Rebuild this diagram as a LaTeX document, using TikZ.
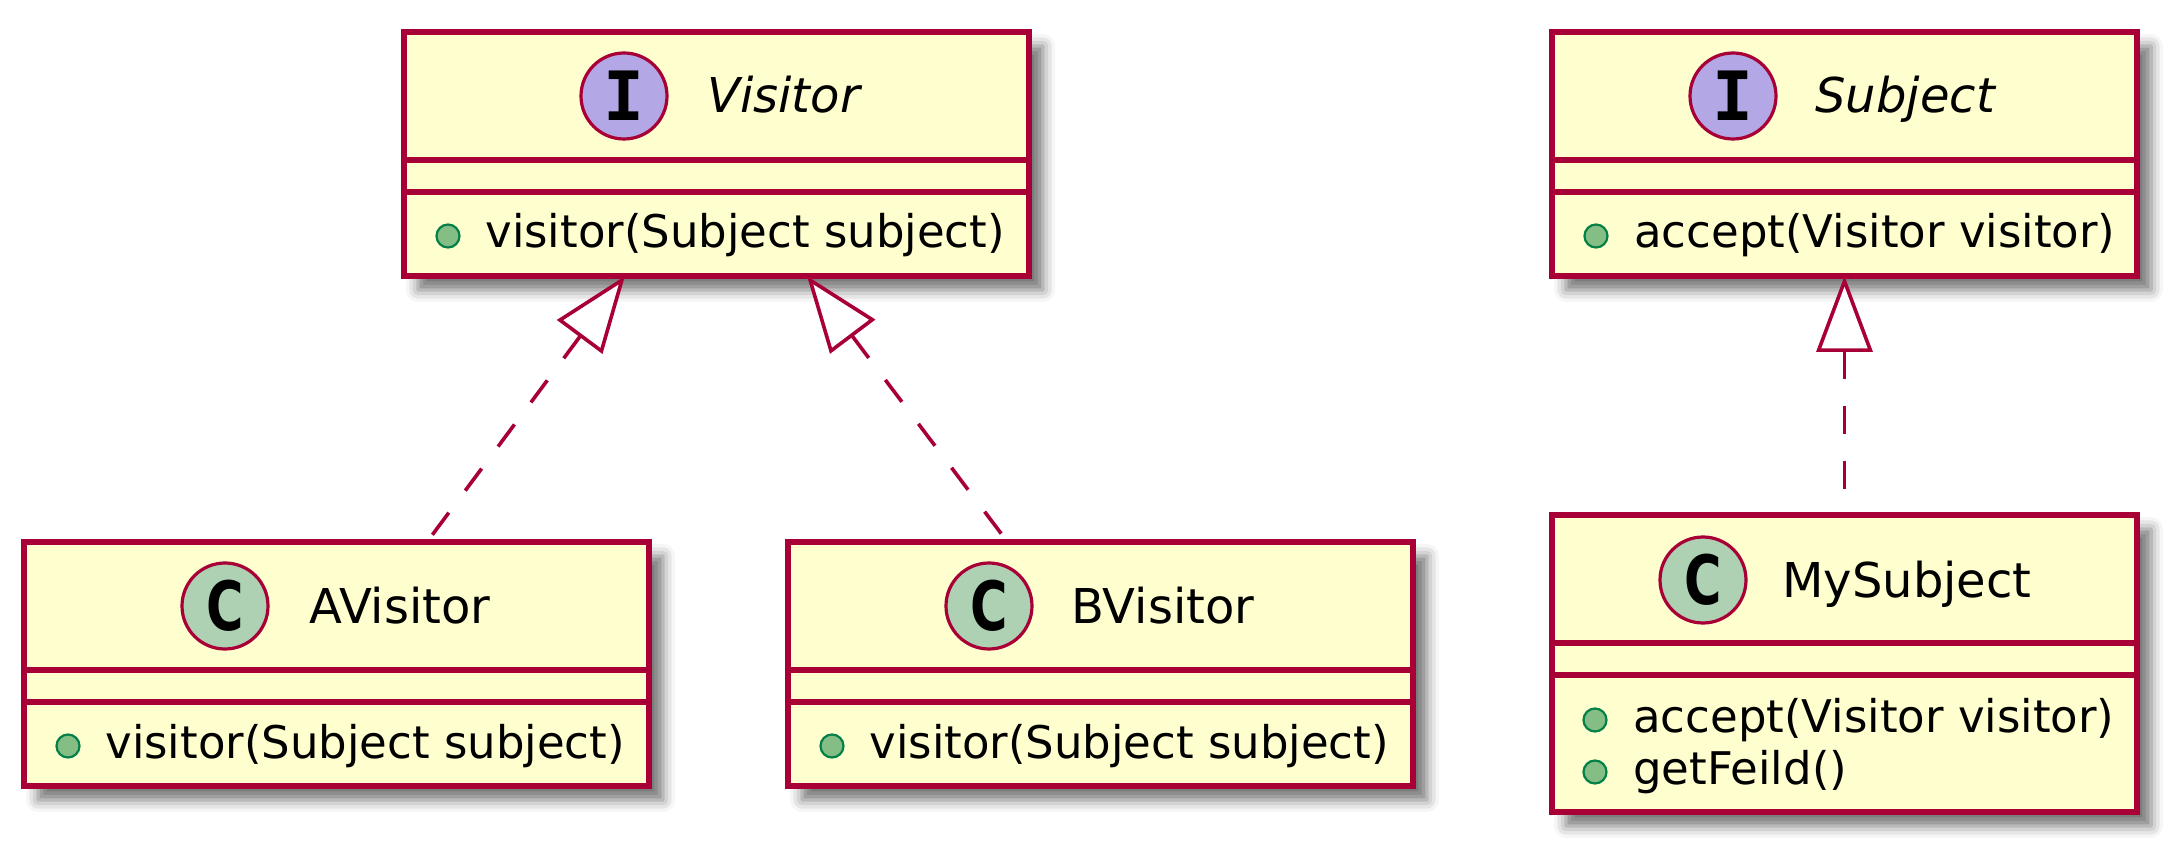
\documentclass[tikz,border=0pt]{standalone}
\usepackage{fontspec}
\setmainfont{DejaVu Sans}
\setmonofont{DejaVu Sans Mono}
\usetikzlibrary{arrows.meta,calc,shadows.blur}
\definecolor{umlborder}{HTML}{A80036}
\definecolor{umlfill}{HTML}{FEFECE}
\definecolor{ccol}{HTML}{ADD1B2}
\definecolor{icol}{HTML}{B4A7E5}
\definecolor{pubfill}{HTML}{84BE84}
\definecolor{pubdraw}{HTML}{038048}
\newcommand\mkclass[5]{%
  \node[classbox, minimum width=#4, minimum height=#5] (#1) at (#2,#3) {};
  \draw[sepline] ($(#1.north west)+(0,128)$) -- ($(#1.north east)+(0,128)$);
  \draw[sepline] ($(#1.north west)+(0,160)$) -- ($(#1.north east)+(0,160)$);
}
\newcommand\letterC{{\fontsize{34}{34}\selectfont\bfseries\scalebox{0.75}[1]{C}}}
\newcommand\letterI{{\fontsize{34}{34}\selectfont\ttfamily\bfseries I}}
\begin{document}
\begin{tikzpicture}[x=0.5pt,y=-0.5pt,
  classbox/.style={rectangle, draw=umlborder, fill=umlfill, line width=2.8pt, inner sep=0pt, outer sep=0pt, anchor=north west,
    blur shadow={shadow xshift=7pt, shadow yshift=-7pt, shadow blur radius=6pt, shadow opacity=55}},
  sepline/.style={draw=umlborder, line width=2.8pt},
  kindc/.style={circle, draw=umlborder, line width=1.6pt, fill=ccol, minimum size=43pt, inner sep=0pt},
  kindi/.style={circle, draw=umlborder, line width=1.6pt, fill=icol, minimum size=43pt, inner sep=0pt},
  ctitle/.style={anchor=base west, inner sep=0pt, font=\fontsize{24}{28}\selectfont},
  ititle/.style={anchor=base west, inner sep=0pt, font=\fontsize{24}{28}\selectfont\itshape},
  member/.style={anchor=base west, inner sep=0pt, font=\fontsize{22.5}{27}\selectfont},
  pub/.style={circle, draw=pubdraw, fill=pubfill, line width=1.1pt, minimum size=11.5pt, inner sep=0pt},
  realize/.style={draw=umlborder, line width=1.8pt, dash pattern=on 13.75pt off 13.75pt,
    {Triangle[fill=white, length=38pt, width=28pt]}-}
]
\useasboundingbox (0,0) rectangle (2176,850);

\mkclass{visitor}{404}{32}{312.5pt}{122pt}
\mkclass{subject}{1552}{32}{292.5pt}{122pt}
\mkclass{avisitor}{24}{542}{312.5pt}{122pt}
\mkclass{bvisitor}{788}{542}{312.5pt}{122pt}
\mkclass{mysubject}{1552}{515}{292.5pt}{148.5pt}

% Visitor
\node[kindi] (visitor-k) at ($(visitor.north west)+(220,64)$) {\letterI};
\node[ititle] (visitor-t) at ($(visitor.north west)+(303,81)$) {Visitor};
\node[pub] (visitor-p1) at ($(visitor.north west)+(44,204)$) {};
\node[member] (visitor-m1) at ($(visitor.north west)+(81,216)$) {visitor(Subject subject)};

% Subject
\node[kindi] (subject-k) at ($(subject.north west)+(181,64)$) {\letterI};
\node[ititle] (subject-t) at ($(subject.north west)+(263,81)$) {Subject};
\node[pub] (subject-p1) at ($(subject.north west)+(44,204)$) {};
\node[member] (subject-m1) at ($(subject.north west)+(82,216)$) {accept(Visitor visitor)};

% AVisitor
\node[kindc] (avisitor-k) at ($(avisitor.north west)+(201,64)$) {\letterC};
\node[ctitle] (avisitor-t) at ($(avisitor.north west)+(285,81)$) {AVisitor};
\node[pub] (avisitor-p1) at ($(avisitor.north west)+(44,204)$) {};
\node[member] (avisitor-m1) at ($(avisitor.north west)+(81,216)$) {visitor(Subject subject)};

% BVisitor
\node[kindc] (bvisitor-k) at ($(bvisitor.north west)+(201,64)$) {\letterC};
\node[ctitle] (bvisitor-t) at ($(bvisitor.north west)+(283,81)$) {BVisitor};
\node[pub] (bvisitor-p1) at ($(bvisitor.north west)+(44,204)$) {};
\node[member] (bvisitor-m1) at ($(bvisitor.north west)+(81,216)$) {visitor(Subject subject)};

% MySubject
\node[kindc] (mysubject-k) at ($(mysubject.north west)+(151,65)$) {\letterC};
\node[ctitle] (mysubject-t) at ($(mysubject.north west)+(230,82)$) {MySubject};
\node[pub] (mysubject-p1) at ($(mysubject.north west)+(43,205)$) {};
\node[member] (mysubject-m1) at ($(mysubject.north west)+(81,217)$) {accept(Visitor visitor)};
\node[pub] (mysubject-p2) at ($(mysubject.north west)+(43,257)$) {};
\node[member] (mysubject-m2) at ($(mysubject.north west)+(81,269)$) {getFeild()};

% realizations
\coordinate (vin1) at ($(visitor.south west)+(221,0)$);
\coordinate (aout) at ($(avisitor.north west)+(403,0)$);
\coordinate (vin2) at ($(visitor.south west)+(403,0)$);
\coordinate (bout) at ($(bvisitor.north west)+(219.5,0)$);
\draw[realize] (vin1) -- (aout);
\draw[realize] (vin2) -- (bout);
\draw[realize] (subject.south) -- (mysubject.north);
\end{tikzpicture}
\end{document}
